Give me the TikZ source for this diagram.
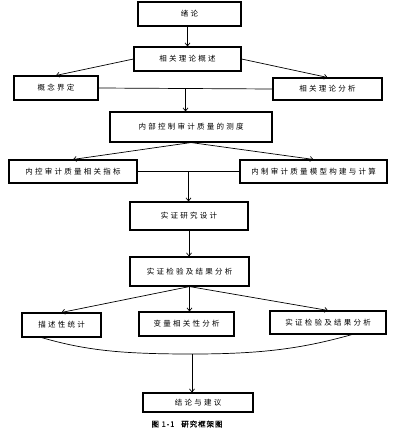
\documentclass[tikz,border=0pt]{standalone}
\usepackage{fontspec}
\usepackage{tikz}
\usetikzlibrary{arrows.meta,calc}
\newfontfamily\cjk[LetterSpace=30]{Noto Sans CJK SC}
\newfontfamily\capcjk[FakeBold=1,LetterSpace=12]{Noto Sans CJK SC}
\tikzset{basic/.style={draw,line width=1.1pt,inner sep=0pt,
                       font=\cjk\fontsize{7.5}{9}\selectfont}}
\tikzset{flow/.style={line width=0.7pt,-{Straight Barb[length=3pt,width=5pt]}}}
\tikzset{link/.style={line width=0.7pt}}

\begin{document}
\begin{tikzpicture}[x=1pt,y=-1pt]
    \useasboundingbox (0,0) rectangle (405,436);

    \node[basic,minimum width=103pt,minimum height=24pt] (xl) at (189.5,14) {绪论};
    \node[basic,minimum width=107pt,minimum height=24pt] (gs) at (187.5,59) {相关理论概述};
    \node[basic,minimum width=84pt,minimum height=24pt] (gn) at (56,88) {概念界定};
    \node[basic,minimum width=109pt,minimum height=22pt] (fx) at (327.5,89) {相关理论分析};
    \node[basic,minimum width=162pt,minimum height=30pt] (cd) at (191,127) {内部控制审计质量的测度};

    \node[basic,minimum width=128pt,minimum height=23pt] (zb) at (73,171.5) {内控审计质量相关指标};
    \node[basic,minimum width=147pt,minimum height=23pt] (mx) at (313.5,171.5) {内制审计质量模型构建与计算};
    \node[basic,minimum width=118pt,minimum height=28pt] (sj) at (189,216) {实证研究设计};
    \node[basic,minimum width=119pt,minimum height=29pt] (jy) at (189.5,271.5) {实证检验及结果分析};

    \node[basic,minimum width=79pt,minimum height=24pt] (ms) at (61.5,325) {描述性统计};
    \node[basic,minimum width=95pt,minimum height=24pt] (xg) at (186.5,324) {变量相关性分析};
    \node[basic,minimum width=116pt,minimum height=23pt] (jy2) at (328,322.5) {实证检验及结果分析};
    \node[basic,minimum width=110pt,minimum height=19pt] (jl) at (198,402.5) {结论与建议};

    \node[font=\capcjk\fontsize{7.5}{8}\selectfont] (cap) at (187,424) {图 1-1\hspace{7pt}研究框架图};

    % top part
    \draw[flow] (gs.north |- xl.south) -- (gs.north);
    \draw[flow] (gs.west) -- (gn.north);
    \draw[flow] (gs.east) -- (fx.north);
    \draw[link] (gn.east) -- (fx.west);
    \coordinate (m1) at ($(gn.east)!0.5!(fx.west)$);
    \draw[flow] (m1) -- (m1 |- cd.north);

    % measures
    \draw[flow] (cd.south) -- (zb.north);
    \draw[flow] (cd.south) -- (mx.north);
    \draw[link] (zb.east) -- (mx.west);
    \coordinate (m2) at ($(zb.east)!0.5!(mx.west)$);
    \draw[flow] (m2) -- (m2 |- sj.north);
    \draw[flow] (sj.south) -- (sj.south |- jy.north);

    % analysis
    \draw[flow] (jy.south) -- (ms.north);
    \draw[flow] (jy.south) -- (jy.south |- xg.north);
    \draw[flow] (jy.south) -- (jy2.north);

    \coordinate (a) at ($(ms.south)!0.5!(ms.south west)$);
    \coordinate (b) at ($(jy2.south)!0.41!(jy2.south east)$);
    \coordinate (j) at (192,354);
    \draw[link] (a) .. controls +(45,13) and +(-70,0) .. (j)
                    .. controls +(70,0) and +(-50,14) .. (b);
    \draw[flow] (j) -- (j |- jl.north);

\end{tikzpicture}
\end{document}
